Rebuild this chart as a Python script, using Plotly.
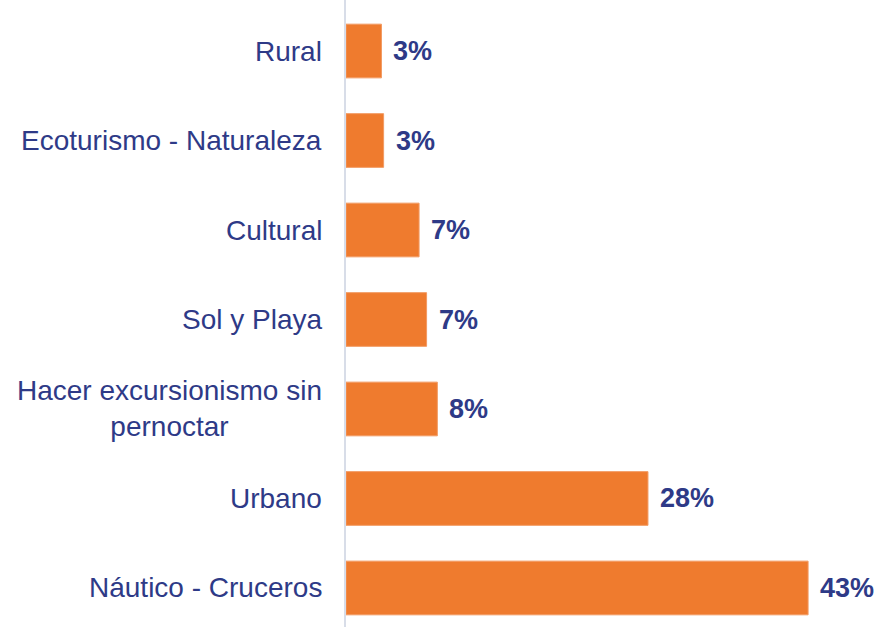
import plotly.graph_objects as go

# categories bottom -> top
categories = ["Náutico - Cruceros", "Urbano", "Hacer excursionismo sin<br>pernoctar",
              "Sol y Playa", "Cultural", "Ecoturismo - Naturaleza", "Rural"]
values = [43.0, 28.1, 8.5, 7.5, 6.8, 3.5, 3.3]
value_labels = ["43%", "28%", "8%", "7%", "7%", "3%", "3%"]

navy = "#2E3A87"
orange = "#EF7B2E"
font_family = "Liberation Sans, Arial, sans-serif"

fig = go.Figure()
fig.add_trace(go.Bar(
    y=categories, x=values, orientation="h",
    marker=dict(color=orange, line=dict(color="#F29A62", width=1)),
    width=0.6,
))

for cat, v, lab in zip(categories, values, value_labels):
    fig.add_annotation(x=v, y=cat, xref="x", yref="y", text=lab, showarrow=False,
                       xanchor="left", xshift=10,
                       font=dict(family=font_family, size=27, color=navy, weight="bold"))
    fig.add_annotation(x=0, y=cat, xref="paper", yref="y", text=cat, showarrow=False,
                       xanchor="right", xshift=-22, align="center",
                       font=dict(family=font_family, size=28, color=navy))

fig.update_layout(
    width=879, height=627,
    margin=dict(l=346, r=0, t=0, b=0),
    paper_bgcolor="white", plot_bgcolor="white",
    showlegend=False,
    xaxis=dict(range=[0, 49.6], visible=False),
    yaxis=dict(categoryorder="array", categoryarray=categories,
               range=[-0.436, 6.57], showticklabels=False, showgrid=False,
               showline=True, linecolor="#D8DDE8", linewidth=2, ticks=""),
)

fig.write_html("out.html", config={"displayModeBar": False},
               post_script="document.body.style.margin='0';")
